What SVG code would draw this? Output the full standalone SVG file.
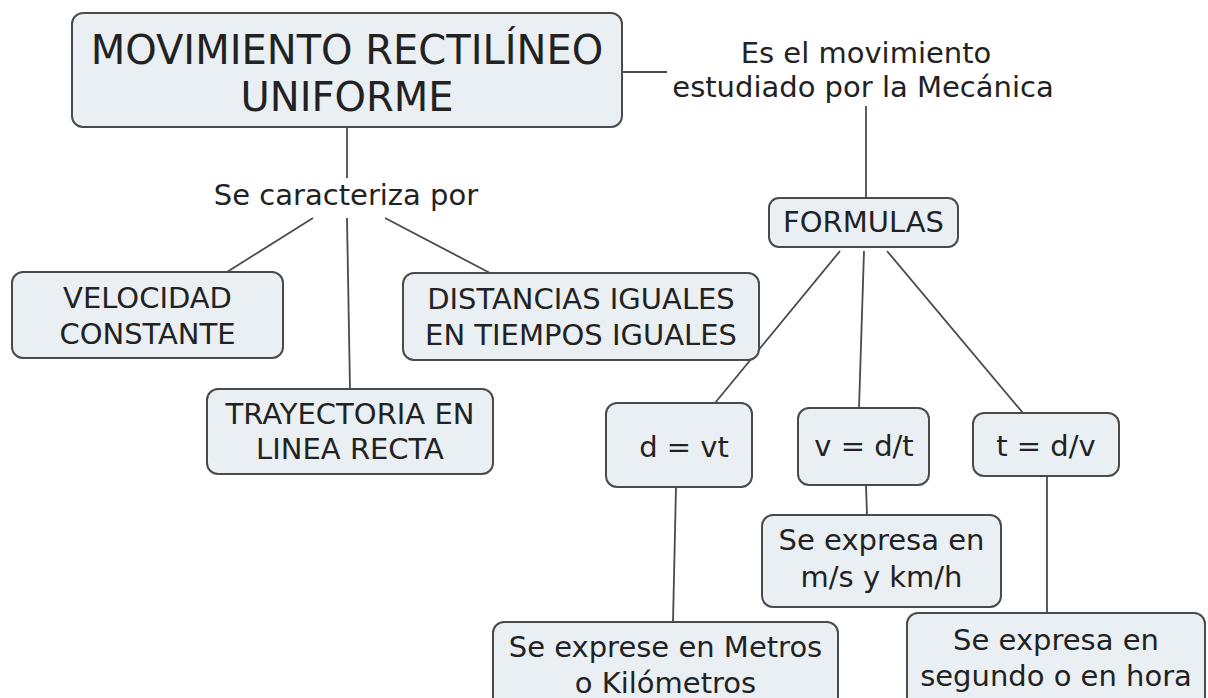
<svg xmlns="http://www.w3.org/2000/svg" width="1208" height="698" viewBox="0 0 1208 698">
<style>
.box{fill:#e9eff2;stroke:#4a4a4a;stroke-width:2}
.t{font-family:"DejaVu Sans",Verdana,sans-serif;font-size:29px;fill:#222;text-anchor:middle}
.big{font-size:40px}
.ln{stroke:#4a4a4a;stroke-width:1.8;fill:none}
</style>
<rect width="1208" height="698" fill="#ffffff"/>
<g id="connectors">
<line class="ln" x1="622" y1="72" x2="667" y2="72"/>
<line class="ln" x1="866" y1="106" x2="866" y2="198"/>
<line class="ln" x1="347" y1="127" x2="347" y2="178"/>
<line class="ln" x1="313" y1="218" x2="227" y2="272"/>
<line class="ln" x1="347" y1="218" x2="350" y2="389"/>
<line class="ln" x1="385" y1="218" x2="490" y2="273"/>
<line class="ln" x1="840" y1="251" x2="715" y2="403"/>
<line class="ln" x1="864" y1="251" x2="859" y2="408"/>
<line class="ln" x1="887" y1="251" x2="1023" y2="413"/>
<line class="ln" x1="676" y1="487" x2="673" y2="622"/>
<line class="ln" x1="866" y1="485" x2="867" y2="515"/>
<line class="ln" x1="1047" y1="476" x2="1047" y2="613"/>
</g>
<g id="n-mru">
<rect class="box" x="72" y="13" width="550" height="114" rx="11"/>
<text class="t big" x="347" y="64">MOVIMIENTO RECTILÍNEO</text>
<text class="t big" x="347" y="111">UNIFORME</text>
</g>
<g id="l-estudiado">
<text class="t" x="866" y="63">Es el movimiento</text>
<text class="t" x="863" y="97">estudiado por la Mecánica</text>
</g>
<g id="l-caracteriza">
<text class="t" x="346" y="205">Se caracteriza por</text>
</g>
<g id="n-formulas">
<rect class="box" x="769" y="198" width="189" height="49" rx="10"/>
<text class="t" x="863.5" y="232">FORMULAS</text>
</g>
<g id="n-velocidad">
<rect class="box" x="12" y="272" width="271" height="86" rx="11"/>
<text class="t" x="147.5" y="308">VELOCIDAD</text>
<text class="t" x="147.5" y="344">CONSTANTE</text>
</g>
<g id="n-distancias">
<rect class="box" x="403" y="273" width="356" height="87" rx="11"/>
<text class="t" x="581" y="309">DISTANCIAS IGUALES</text>
<text class="t" x="581" y="345">EN TIEMPOS IGUALES</text>
</g>
<g id="n-trayectoria">
<rect class="box" x="207" y="389" width="286" height="85" rx="11"/>
<text class="t" x="350" y="424">TRAYECTORIA EN</text>
<text class="t" x="350" y="459">LINEA RECTA</text>
</g>
<g id="n-dvt">
<rect class="box" x="606" y="403" width="146" height="84" rx="11"/>
<text class="t" x="684" y="457">d = vt</text>
</g>
<g id="n-vdt">
<rect class="box" x="798" y="408" width="131" height="77" rx="11"/>
<text class="t" x="864" y="456">v = d/t</text>
</g>
<g id="n-tdv">
<rect class="box" x="973" y="413" width="146" height="63" rx="11"/>
<text class="t" x="1046" y="456">t = d/v</text>
</g>
<g id="n-ms">
<rect class="box" x="762" y="515" width="239" height="92" rx="11"/>
<text class="t" x="881.5" y="550">Se expresa en</text>
<text class="t" x="881.5" y="587">m/s y km/h</text>
</g>
<g id="n-metros">
<rect class="box" x="493" y="622" width="345" height="100" rx="11"/>
<text class="t" x="665.5" y="657">Se exprese en Metros</text>
<text class="t" x="665.5" y="693">o Kilómetros</text>
</g>
<g id="n-segundo">
<rect class="box" x="907" y="613" width="298" height="100" rx="11"/>
<text class="t" x="1056" y="650">Se expresa en</text>
<text class="t" x="1056" y="686">segundo o en hora</text>
</g>
</svg>
